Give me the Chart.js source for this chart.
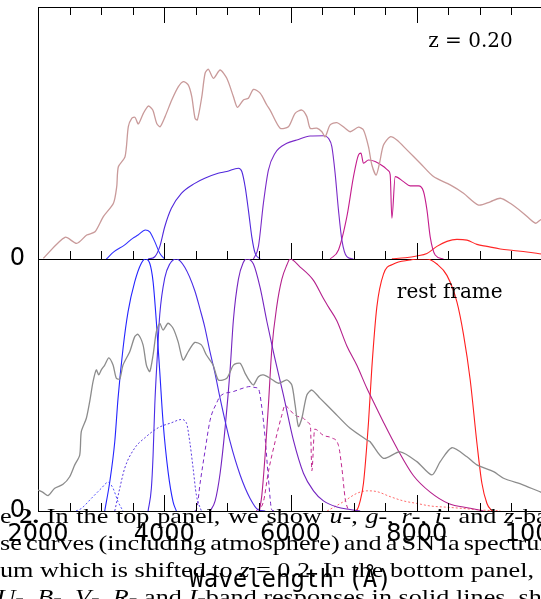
<!DOCTYPE html>
<html>
<head>
<meta charset="utf-8">
<script src="https://cdn.jsdelivr.net/npm/chart.js@4"></script>
<style>
  html, body { margin: 0; padding: 0; background: #fff; }
  body { width: 541px; height: 599px; overflow: hidden; position: relative; }
  #plot { position: absolute; left: 0; top: 0; }
  #caption {
    position: absolute; left: 0; top: 502px; width: 460px;
    font-family: "Liberation Serif", serif; font-size: 22px; line-height: 27px;
    color: #000; white-space: nowrap; overflow: visible;
    transform: scaleX(1.19); transform-origin: 0 0;
  }
  #caption .l1 { word-spacing: 1px; }
  #caption .l2 { word-spacing: -2px; }
  #caption .l4 { margin-left: -3px; }
</style>
</head>
<body>
<canvas id="plot" width="583" height="599"></canvas>
<div id="caption">
  <div class="l1">e <b>2.</b> In the top panel, we show <i>u</i>-, <i>g</i>-, <i>r</i>-, <i>i</i>- and <i>z</i>-band</div>
  <div class="l2">se curves (including atmosphere) and a SN Ia spectrum</div>
  <div class="l3">um which is shifted to <i>z</i> = 0.2. In the bottom panel,</div>
  <div class="l4"><i>U</i>-, <i>B</i>-, <i>V</i>-, <i>R</i>- and <i>I</i>-band responses in solid lines, shifted</div>
</div>
<script>
// ---- SN Ia spectrum, observed at z = 0.20 (top panel) ----
const obsSpecWave = [2084,2428,2613,2772,2903,3035,3195,3247,3273,3379,3431,3485,3537,3590,3669,3748,3818,3881,3934,4013,4119,4224,4303,4382,4436,4488,4525,4595,4647,4699,4779,4885,4991,5096,5159,5254,5333,5413,5519,5625,5677,5836,5967,6073,6180,6259,6311,6417,6497,6549,6628,6734,6866,6945,7077,7156,7235,7289,7357,7410,7473,7579,7685,7844,8055,8265,8530,8741,8979,9164,9323,9481,9692,9877,9957,10000];
const obsSpecFlux = [0.003,0.086,0.062,0.095,0.108,0.168,0.221,0.287,0.366,0.406,0.525,0.558,0.562,0.536,0.578,0.607,0.591,0.538,0.525,0.565,0.631,0.684,0.704,0.690,0.644,0.558,0.552,0.644,0.737,0.753,0.717,0.750,0.717,0.644,0.602,0.631,0.638,0.673,0.658,0.611,0.591,0.519,0.525,0.578,0.591,0.565,0.519,0.519,0.505,0.485,0.532,0.541,0.519,0.505,0.523,0.512,0.446,0.373,0.333,0.380,0.452,0.485,0.472,0.433,0.380,0.327,0.294,0.261,0.214,0.227,0.241,0.221,0.181,0.142,0.155,0.160];

// ---- SDSS system responses incl. atmosphere (top panel) ----
const uWave = [3083,3200,3374,3500,3585,3701,3770,3850,3929,4008];
const uResp = [0,0.028,0.056,0.082,0.095,0.115,0.108,0.069,0.023,0];
const gWave = [3744,3850,3929,4008,4113,4271,4484,4642,4853,4991,5175,5229,5281,5333,5387,5439,5519];
const gResp = [0,0.009,0.049,0.128,0.201,0.260,0.300,0.320,0.340,0.347,0.360,0.347,0.287,0.194,0.088,0.023,0];
const rWave = [5413,5492,5571,5650,5756,5942,6100,6311,6522,6601,6655,6707,6760,6814,6893,6998];
const rResp = [0,0.050,0.222,0.353,0.420,0.459,0.472,0.488,0.489,0.479,0.446,0.340,0.194,0.075,0.009,0];
const iWave = [6628,6760,6893,6998,7077,7115,7156,7235,7341,7473,7552,7579,7606,7659,7790,7896,8028,8107,8162,8213,8292,8424];
const iResp = [0,0.036,0.168,0.327,0.413,0.420,0.380,0.393,0.387,0.367,0.350,0.335,0.162,0.327,0.307,0.290,0.290,0.268,0.194,0.088,0.016,0];
const zWave = [7606,7817,8002,8161,8319,8478,8636,8795,8953,9112,9323,9534,9746,9973];
const zResp = [0.001,0.005,0.012,0.022,0.050,0.070,0.078,0.075,0.058,0.050,0.040,0.034,0.028,0.020];

// ---- SN Ia spectrum in the rest frame (bottom panel) ----
const restSpecWave = [2000,2079,2159,2265,2396,2502,2582,2661,2686,2766,2819,2872,2924,2962,3003,3057,3121,3189,3241,3295,3347,3453,3533,3585,3664,3717,3770,3823,3875,3929,3981,4061,4140,4219,4298,4378,4484,4588,4668,4774,4858,4991,5096,5202,5281,5360,5413,5492,5571,5677,5809,5942,6021,6073,6126,6180,6259,6338,6470,6681,6945,7210,7262,7473,7738,8002,8240,8372,8557,8795,8953,9217,9375,9692,9973];
const restSpecFlux = [0.083,0.074,0.061,0.090,0.106,0.136,0.183,0.222,0.315,0.368,0.434,0.513,0.560,0.540,0.560,0.579,0.608,0.579,0.527,0.524,0.579,0.632,0.692,0.701,0.659,0.579,0.553,0.619,0.712,0.745,0.718,0.745,0.725,0.672,0.599,0.632,0.669,0.659,0.619,0.579,0.520,0.527,0.579,0.586,0.546,0.513,0.500,0.533,0.540,0.527,0.507,0.520,0.500,0.421,0.335,0.368,0.460,0.480,0.447,0.394,0.328,0.282,0.275,0.209,0.235,0.196,0.143,0.196,0.251,0.215,0.183,0.156,0.130,0.103,0.074];

// ---- Bessell U B V R I responses (bottom panel, solid) ----
const UWave = [3057,3137,3216,3268,3347,3427,3533,3637,3701,3770,3823,3875,3929,3981,4061,4140,4192];
const UResp = [0,0.116,0.275,0.447,0.645,0.791,0.910,0.983,1.000,0.983,0.910,0.751,0.552,0.354,0.155,0.036,0];
const BWave = [3744,3796,3823,3850,3891,3929,4008,4087,4192,4325,4484,4568,4642,4726,4801,4885,5043,5202,5360,5492,5600];
const BResp = [0,0.090,0.220,0.420,0.620,0.780,0.925,0.980,1.000,0.967,0.874,0.800,0.730,0.630,0.550,0.447,0.275,0.143,0.050,0.004,0];
const VWave = [4726,4806,4885,4964,5043,5096,5175,5250,5308,5413,5519,5625,5730,5888,6047,6205,6364,6522,6734,6945,7104];
const VResp = [0,0.040,0.150,0.330,0.560,0.760,0.920,0.985,1.000,0.980,0.886,0.753,0.630,0.460,0.280,0.150,0.080,0.040,0.016,0.006,0];
const RWave = [5508,5546,5598,5650,5704,5783,5862,5942,5994,6153,6364,6522,6601,6734,6893,7051,7210,7262,7473,7685,7949,8213,8503,8847,9058];
const RResp = [0,0.063,0.222,0.420,0.642,0.813,0.919,0.976,1.000,0.968,0.915,0.843,0.810,0.755,0.655,0.578,0.487,0.460,0.352,0.250,0.140,0.075,0.030,0.011,0];
const IWave = [7000,7051,7104,7156,7235,7289,7368,7473,7632,7896,8002,8161,8319,8478,8636,8741,8847,8953,9032,9112,9191];
const IResp = [0,0.004,0.040,0.110,0.350,0.570,0.810,0.940,0.980,0.996,1.000,1.000,0.980,0.935,0.830,0.700,0.520,0.270,0.110,0.030,0];

// ---- SDSS responses moved to the rest frame (bottom panel, broken lines) ----
const uRestWave = [2602,2686,2845,3003,3110,3189,3268,3347];
const uRestResp = [0,0.010,0.050,0.090,0.114,0.090,0.037,0];
const gRestWave = [3216,3295,3374,3533,3691,3902,4113,4271,4350,4404,4457,4509,4588];
const gRestResp = [0,0.090,0.170,0.250,0.290,0.330,0.350,0.363,0.350,0.275,0.170,0.063,0];
const rRestWave = [4480,4515,4568,4647,4726,4832,4885,5096,5254,5360,5439,5492,5546,5598,5650,5704,5756];
const rRestResp = [0,0.010,0.110,0.240,0.360,0.430,0.455,0.474,0.488,0.494,0.490,0.485,0.410,0.290,0.130,0.004,0];
const iRestWave = [5456,5571,5650,5756,5862,5915,5967,6073,6205,6284,6316,6338,6383,6522,6655,6760,6814,6866,6919];
const iRestResp = [0,0.037,0.156,0.275,0.380,0.420,0.407,0.380,0.368,0.350,0.335,0.160,0.325,0.300,0.290,0.260,0.170,0.050,0];
const zRestWave = [6580,6839,7051,7210,7368,7579,7790,8002,8213,8478,8741,9005,9323];
const zRestResp = [0,0.037,0.070,0.080,0.077,0.057,0.040,0.030,0.020,0.015,0.010,0.004,0.001];

// ---- axis ticks ----
const waveMin = 2000, waveMax = 10000;
const minorStep = 500, majorStep = 2000;
const respTicks = [0, 1];

const pts = (w, v) => w.map((x, k) => ({x, y: v[k]}));

function curve(label, w, v, axis, color, extra) {
  return Object.assign({
    label, data: pts(w, v), yAxisID: axis,
    borderColor: color, borderWidth: 1.1,
    pointRadius: 0, fill: false,
    cubicInterpolationMode: 'monotone'
  }, extra || {});
}

const dotted = {borderDash: [2, 2], borderWidth: 1};
const dashed = {borderDash: [4, 3], borderWidth: 1};

// inward tick marks along the top frame, the panel divider and the bottom axis
const inwardTicks = {
  id: 'inwardTicks',
  afterDatasetsDraw(chart, args, opts) {
    const {ctx, scales: {x, yTop, yBot}} = chart;
    const edges = [
      {y: yTop.top, dir: 1},
      {y: yTop.bottom, dir: -1},
      {y: yBot.bottom, dir: -1}
    ];
    ctx.save();
    ctx.strokeStyle = '#000';
    ctx.lineWidth = 1;
    ctx.beginPath();
    for (const t of x.ticks) {
      const px = Math.round(x.getPixelForValue(t.value)) + 0.5;
      const len = t.value % opts.major === 0 ? opts.majorLength : opts.minorLength;
      for (const e of edges) {
        ctx.moveTo(px, e.y);
        ctx.lineTo(px, e.y + e.dir * len);
      }
    }
    ctx.stroke();
    ctx.restore();
  }
};

// panel captions placed in data coordinates
const panelLabels = {
  id: 'panelLabels',
  afterDraw(chart, args, opts) {
    const {ctx, scales} = chart;
    ctx.save();
    ctx.font = opts.font;
    ctx.fillStyle = '#000';
    ctx.textBaseline = 'alphabetic';
    for (const it of opts.items) {
      ctx.fillText(it.text, scales.x.getPixelForValue(it.x), scales[it.axis].getPixelForValue(it.y));
    }
    ctx.restore();
  }
};

const yAxis = () => ({
  type: 'linear',
  position: 'left',
  stack: 'panels',
  stackWeight: 1,
  min: 0, max: 1,
  afterBuildTicks: s => { s.ticks = respTicks.map(value => ({value})); },
  afterFit: s => { s.width = 38; s.paddingTop = 0; s.paddingBottom = 0; },
  ticks: {
    callback: v => (v === 0 ? '0' : ''),
    color: '#000',
    padding: 13,
    font: {family: 'DejaVu Sans', size: 24, lineHeight: 1}
  },
  grid: {display: true, drawOnChartArea: true, drawTicks: false, color: '#000', lineWidth: 1},
  border: {display: true, color: '#000', width: 1}
});

new Chart(document.getElementById('plot'), {
  type: 'line',
  data: {
    datasets: [
      curve('SN Ia z=0.2', obsSpecWave, obsSpecFlux, 'yTop', '#c99a9a', {borderWidth: 1.3, cubicInterpolationMode: 'default', tension: 0.25}),
      curve('u', uWave, uResp, 'yTop', '#3030ff'),
      curve('g', gWave, gResp, 'yTop', '#5028dc'),
      curve('r', rWave, rResp, 'yTop', '#7a2ac8'),
      curve('i', iWave, iResp, 'yTop', '#c41c8c'),
      curve('z', zWave, zResp, 'yTop', '#ff2828'),

      curve('SN Ia rest', restSpecWave, restSpecFlux, 'yBot', '#8c8c8c', {borderWidth: 1.3, cubicInterpolationMode: 'default', tension: 0.25}),
      curve('U', UWave, UResp, 'yBot', '#2424ff'),
      curve('B', BWave, BResp, 'yBot', '#4a2ce6'),
      curve('V', VWave, VResp, 'yBot', '#7424c0'),
      curve('R', RWave, RResp, 'yBot', '#b4208c'),
      curve('I', IWave, IResp, 'yBot', '#ff1e1e'),
      curve('u rest', uRestWave, uRestResp, 'yBot', '#5050ff', dotted),
      curve('g rest', gRestWave, gRestResp, 'yBot', '#5a3ae0', dotted),
      curve('r rest', rRestWave, rRestResp, 'yBot', '#7a2ac8', dashed),
      curve('i rest', iRestWave, iRestResp, 'yBot', '#c0288e', dashed),
      curve('z rest', zRestWave, zRestResp, 'yBot', '#ff6a6a', dotted)
    ]
  },
  options: {
    responsive: false,
    animation: false,
    devicePixelRatio: 1,
    layout: {padding: {top: 7, left: 0, right: 40, bottom: 0}},
    plugins: {
      legend: {display: false},
      tooltip: {enabled: false},
      inwardTicks: {major: majorStep, majorLength: 16, minorLength: 8},
      panelLabels: {
        font: '20px "DejaVu Serif"',
        items: [
          {text: 'z = 0.20', x: 8181, y: 0.841, axis: 'yTop'},
          {text: 'rest frame', x: 7685, y: 0.845, axis: 'yBot'}
        ]
      }
    },
    scales: {
      x: {
        type: 'linear',
        position: 'bottom',
        min: waveMin, max: waveMax,
        afterFit: s => { s.height = 88; s.paddingLeft = 0; s.paddingRight = 0; },
        ticks: {
          stepSize: minorStep,
          autoSkip: false,
          maxRotation: 0,
          padding: 12,
          color: '#000',
          font: {family: 'DejaVu Sans', size: 24, lineHeight: 1},
          callback: v => (v % majorStep === 0 ? String(v) : '')
        },
        grid: {display: false, drawTicks: false},
        border: {display: true, color: '#000', width: 1},
        title: {
          display: true,
          text: 'Wavelength (Å)',
          color: '#000',
          font: {family: 'DejaVu Sans Mono', size: 24, lineHeight: 1},
          padding: {top: 0, bottom: 6}
        }
      },
      // the stack is laid out from the last listed axis downwards
      yBot: yAxis(),
      yTop: yAxis()
    }
  },
  plugins: [inwardTicks, panelLabels]
});
</script>
</body>
</html>
